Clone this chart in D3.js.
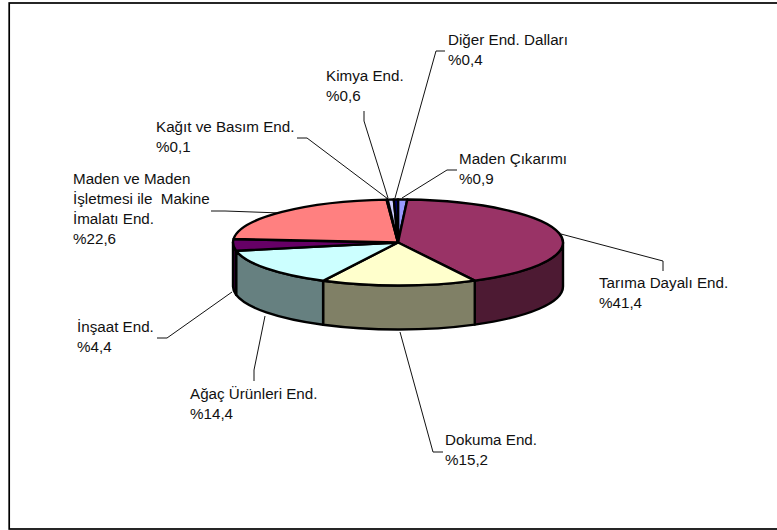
<!DOCTYPE html>
<html>
<head>
<meta charset="utf-8">
<script src="https://cdn.jsdelivr.net/npm/d3@7"></script>
<style>
  html, body { margin: 0; padding: 0; background: #fff; }
  svg { display: block; }
  text { font-family: "Liberation Sans", Arial, sans-serif; font-size: 15.2px; fill: #111; white-space: pre; }
</style>
</head>
<body>
<script>
'use strict';

// slices, clockwise from 12 o'clock
const categories = [
  "Maden Çıkarımı",
  "Tarıma Dayalı End.",
  "Dokuma End.",
  "Ağaç Ürünleri End.",
  "İnşaat End.",
  "Maden ve Maden\nİşletmesi ile  Makine\nİmalatı End.",
  "Kağıt ve Basım End.",
  "Kimya End.",
  "Diğer End. Dalları"
];
const values = [0.9, 41.4, 15.2, 14.4, 4.4, 22.6, 0.1, 0.6, 0.4];
const valueLabels = ["%0,9", "%41,4", "%15,2", "%14,4", "%4,4", "%22,6", "%0,1", "%0,6", "%0,4"];

const topColors = ["#9999FF", "#993366", "#FFFFCC", "#CCFFFF", "#660066", "#FF8080", "#0066CC", "#CCCCFF", "#000080"];
const sideColors = ["#4D4D80", "#4D1A33", "#808066", "#668080", "#330033", "#804040", "#003366", "#666680", "#000040"];

// where each label sits and the route of its leader line
const labelX = [459, 599, 445, 190, 77, 73, 156, 326, 448];
const labelY = [164, 288, 445, 399, 332, 184, 132, 81, 45];
const leaders = [
  [[457, 170], [447, 170], [402, 198]],
  [[561, 234], [663, 261], [663, 271]],
  [[400, 332], [433, 452], [443, 452]],
  [[265, 316], [254, 370], [254, 381]],
  [[232, 292], [167, 338], [157, 338]],
  [[211, 211], [225, 211], [281, 213]],
  [[297, 138], [307, 138], [388, 199]],
  [[364, 111], [364, 121], [388, 198]],
  [[445, 51], [436, 51], [395, 198]]
];

const width = 777, height = 530;
const cx = 398, cy = 242.5, rx = 165, ry = 43, depth = 44;
const lineHeight = 20;

const svg = d3.select("body").append("svg")
  .attr("width", width)
  .attr("height", height);

// chart frame
svg.append("rect")
  .attr("x", 9.2)
  .attr("y", 3)
  .attr("width", 790)
  .attr("height", 526)
  .attr("fill", "#fff")
  .attr("stroke", "#000")
  .attr("stroke-width", 1.7);

const pie = d3.pie().sort(null).startAngle(0).endAngle(2 * Math.PI);
const slices = pie(values);

function rimX(a) { return cx + rx * Math.sin(a); }
function rimY(a) { return cy - ry * Math.cos(a); }

// side wall of a slice, only the part facing the viewer
function sidePath(d) {
  const a0 = Math.max(d.startAngle, Math.PI / 2);
  const a1 = Math.min(d.endAngle, 3 * Math.PI / 2);
  if (a1 <= a0) return null;
  return "M" + rimX(a0) + "," + rimY(a0) +
    "A" + rx + "," + ry + " 0 0 1 " + rimX(a1) + "," + rimY(a1) +
    "L" + rimX(a1) + "," + (rimY(a1) + depth) +
    "A" + rx + "," + ry + " 0 0 0 " + rimX(a0) + "," + (rimY(a0) + depth) +
    "Z";
}

const line = d3.line();

// leader lines go under the pie
svg.append("g").selectAll("path")
  .data(leaders)
  .enter()
  .append("path")
  .attr("d", d => line(d))
  .attr("fill", "none")
  .attr("stroke", "#111")
  .attr("stroke-width", 1);

svg.append("g").selectAll("path")
  .data(slices.filter(d => sidePath(d)))
  .enter()
  .append("path")
  .attr("d", sidePath)
  .attr("fill", d => sideColors[d.index])
  .attr("stroke", "#000")
  .attr("stroke-width", 2.4)
  .attr("stroke-linejoin", "round");

const arc = d3.arc().innerRadius(0).outerRadius(rx);

svg.append("g")
  .attr("transform", "translate(" + cx + "," + cy + ") scale(1," + (ry / rx) + ")")
  .selectAll("path")
  .data(slices)
  .enter()
  .append("path")
  .attr("d", arc)
  .attr("fill", d => topColors[d.index])
  .attr("stroke", "#000")
  .attr("stroke-width", 2.4)
  .attr("stroke-linejoin", "round")
  .attr("vector-effect", "non-scaling-stroke");

// labels: category lines then the value line
categories.forEach((name, i) => {
  const lines = name.split("\n").concat(valueLabels[i]);
  const t = svg.append("text").attr("x", labelX[i]).attr("y", labelY[i]);
  lines.forEach((s, j) => {
    t.append("tspan")
      .attr("x", labelX[i])
      .attr("y", labelY[i] + j * lineHeight)
      .text(s);
  });
});
</script>
</body>
</html>
